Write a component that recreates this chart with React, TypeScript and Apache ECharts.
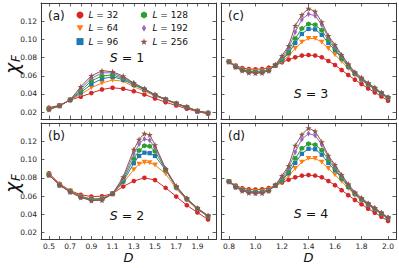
import React, { useEffect, useRef } from "react";
import * as echarts from "echarts";

// ---------- data ----------
const X_A = [0.5, 0.6, 0.7, 0.8, 0.9, 1.0, 1.1, 1.2, 1.3, 1.4, 1.5, 1.6, 1.7, 1.8, 1.9, 2.0];
const A32 = [0.025, 0.0275, 0.0335, 0.037, 0.041, 0.045, 0.0468, 0.0457, 0.043, 0.0395, 0.035, 0.031, 0.0273, 0.0238, 0.0205, 0.0182];
const A64 = [0.0235, 0.027, 0.0335, 0.0395, 0.047, 0.052, 0.0553, 0.054, 0.048, 0.043, 0.038, 0.0335, 0.029, 0.0253, 0.021, 0.019];
const A96 = [0.0235, 0.027, 0.0335, 0.0415, 0.0508, 0.0567, 0.059, 0.0556, 0.05, 0.0445, 0.0385, 0.034, 0.0293, 0.0255, 0.0212, 0.019];
const A128 = [0.0232, 0.027, 0.0335, 0.0435, 0.0545, 0.0597, 0.061, 0.057, 0.051, 0.045, 0.039, 0.034, 0.0295, 0.0256, 0.0213, 0.019];
const A192 = [0.023, 0.027, 0.0335, 0.046, 0.057, 0.0633, 0.0633, 0.058, 0.052, 0.0455, 0.039, 0.0342, 0.0296, 0.0256, 0.0213, 0.0192];
const A256 = [0.023, 0.027, 0.0335, 0.048, 0.06, 0.0655, 0.0645, 0.0596, 0.052, 0.046, 0.0392, 0.0343, 0.0297, 0.0257, 0.0214, 0.0192];

const X_B32 = [0.5, 0.6, 0.7, 0.8, 0.9, 1.0, 1.1, 1.2, 1.3, 1.4, 1.5, 1.6, 1.7, 1.8, 1.9, 2.0];
const X_B = [0.5, 0.6, 0.7, 0.8, 0.9, 1.0, 1.1, 1.2, 1.3, 1.35, 1.4, 1.45, 1.5, 1.6, 1.7, 1.8, 1.9, 2.0];
const B32 = [0.085, 0.0735, 0.066, 0.0615, 0.0595, 0.0598, 0.0628, 0.0705, 0.0765, 0.08, 0.0775, 0.069, 0.0595, 0.05, 0.042, 0.0345];
const B64 = [0.0835, 0.0725, 0.0655, 0.06, 0.057, 0.0575, 0.0625, 0.0745, 0.089, 0.095, 0.097, 0.0965, 0.094, 0.0845, 0.068, 0.0555, 0.0455, 0.0375];
const B96 = [0.0832, 0.072, 0.065, 0.0595, 0.0565, 0.057, 0.0625, 0.076, 0.096, 0.104, 0.1075, 0.107, 0.104, 0.0885, 0.0695, 0.0565, 0.046, 0.038];
const B128 = [0.083, 0.072, 0.065, 0.059, 0.056, 0.0565, 0.0625, 0.0775, 0.101, 0.11, 0.115, 0.1145, 0.109, 0.089, 0.07, 0.057, 0.0465, 0.038];
const B192 = [0.083, 0.072, 0.0645, 0.059, 0.0555, 0.056, 0.0625, 0.079, 0.106, 0.117, 0.1225, 0.121, 0.113, 0.0895, 0.0705, 0.057, 0.0465, 0.0385];
const B256 = [0.083, 0.072, 0.0645, 0.0585, 0.055, 0.0555, 0.0625, 0.081, 0.111, 0.122, 0.1285, 0.127, 0.116, 0.09, 0.071, 0.0575, 0.047, 0.0385];

const X_C = [0.8, 0.85, 0.9, 0.95, 1.0, 1.05, 1.1, 1.15, 1.2, 1.25, 1.3, 1.35, 1.4, 1.45, 1.5, 1.55, 1.6, 1.65, 1.7, 1.75, 1.8, 1.85, 1.9, 1.95, 2.0];
const C32 = [0.0756, 0.0712, 0.0685, 0.0674, 0.0671, 0.0674, 0.0689, 0.0712, 0.0748, 0.0778, 0.0803, 0.0822, 0.0828, 0.0822, 0.0803, 0.0762, 0.0718, 0.0663, 0.0608, 0.0557, 0.0509, 0.0461, 0.0417, 0.0373, 0.0326];
const C64 = [0.0755, 0.0705, 0.0672, 0.0655, 0.065, 0.0652, 0.0668, 0.071, 0.0755, 0.082, 0.09, 0.097, 0.101, 0.101, 0.097, 0.09, 0.083, 0.076, 0.068, 0.061, 0.055, 0.05, 0.045, 0.04, 0.035];
const C96 = [0.0755, 0.0702, 0.0667, 0.0648, 0.0643, 0.0645, 0.0663, 0.0712, 0.077, 0.085, 0.096, 0.106, 0.1115, 0.111, 0.105, 0.096, 0.088, 0.079, 0.07, 0.062, 0.056, 0.0505, 0.0455, 0.0405, 0.0355];
const C128 = [0.0754, 0.07, 0.0663, 0.0643, 0.0638, 0.064, 0.066, 0.0715, 0.078, 0.087, 0.101, 0.112, 0.117, 0.116, 0.11, 0.099, 0.09, 0.08, 0.071, 0.0625, 0.0565, 0.051, 0.046, 0.041, 0.036];
const C192 = [0.0753, 0.0698, 0.066, 0.064, 0.0634, 0.0636, 0.0658, 0.0718, 0.08, 0.09, 0.108, 0.122, 0.128, 0.126, 0.116, 0.102, 0.092, 0.082, 0.072, 0.063, 0.057, 0.0515, 0.0465, 0.0412, 0.0362];
const C256 = [0.0753, 0.0695, 0.0657, 0.0635, 0.063, 0.0632, 0.0655, 0.072, 0.082, 0.093, 0.115, 0.127, 0.134, 0.1307, 0.119, 0.104, 0.094, 0.083, 0.073, 0.064, 0.058, 0.052, 0.047, 0.0415, 0.0365];

const D32 = [0.0762, 0.0716, 0.0687, 0.0675, 0.0672, 0.0674, 0.0688, 0.0713, 0.0748, 0.0779, 0.0805, 0.0824, 0.083, 0.0824, 0.0805, 0.0764, 0.072, 0.0665, 0.061, 0.0558, 0.051, 0.0462, 0.0418, 0.0374, 0.0328];
const D64 = [0.076, 0.0708, 0.0674, 0.0656, 0.0651, 0.0653, 0.0669, 0.0711, 0.0756, 0.0822, 0.0902, 0.0972, 0.1013, 0.1012, 0.0972, 0.0902, 0.0832, 0.0762, 0.0682, 0.0612, 0.0552, 0.0502, 0.0452, 0.0402, 0.0352];
const D96 = [0.076, 0.0705, 0.0669, 0.0649, 0.0644, 0.0646, 0.0664, 0.0713, 0.0772, 0.0852, 0.0963, 0.1063, 0.1118, 0.1113, 0.1053, 0.0962, 0.0882, 0.0792, 0.0702, 0.0622, 0.0562, 0.0507, 0.0457, 0.0407, 0.0357];
const D128 = [0.0759, 0.0703, 0.0665, 0.0644, 0.0639, 0.0641, 0.0661, 0.0716, 0.0782, 0.0873, 0.1013, 0.1123, 0.1173, 0.1163, 0.1103, 0.0993, 0.0902, 0.0802, 0.0712, 0.0627, 0.0567, 0.0512, 0.0462, 0.0412, 0.0362];
const D192 = [0.0758, 0.07, 0.0662, 0.0641, 0.0635, 0.0637, 0.0659, 0.0719, 0.0802, 0.0903, 0.1083, 0.1223, 0.1284, 0.1264, 0.1163, 0.1023, 0.0922, 0.0822, 0.0722, 0.0632, 0.0572, 0.0517, 0.0467, 0.0414, 0.0364];
const D256 = [0.0758, 0.0697, 0.0659, 0.0636, 0.0631, 0.0633, 0.0656, 0.0721, 0.0822, 0.0933, 0.1153, 0.1273, 0.1345, 0.131, 0.1193, 0.1043, 0.0942, 0.0832, 0.0732, 0.0642, 0.0582, 0.0522, 0.0472, 0.0417, 0.0367];

const L_NAMES = ["32", "64", "96", "128", "192", "256"];
const S_LABELS = ["1", "2", "3", "4"];
const PANEL_LETTERS = ["(a)", "(b)", "(c)", "(d)"];

const X_TICKS_LEFT = [0.5, 0.6, 0.7, 0.8, 0.9, 1.0, 1.1, 1.2, 1.3, 1.4, 1.5, 1.6, 1.7, 1.8, 1.9, 2.0];
const X_LABELS_LEFT = [0.5, 0.7, 0.9, 1.1, 1.3, 1.5, 1.7, 1.9];
const X_TICKS_RIGHT = [0.8, 1.0, 1.2, 1.4, 1.6, 1.8, 2.0];
const Y_TICKS = [0.02, 0.04, 0.06, 0.08, 0.1, 0.12];

// ---------- styling ----------
const COLORS = ["#d62728", "#ff7f0e", "#1f77b4", "#2ca02c", "#9467bd", "#8c564b"];
const TRI_DOWN = "path://M0,0 L10,0 L5,8.66 Z";
const HEX = "path://M5,0 L9.33,2.5 L9.33,7.5 L5,10 L0.67,7.5 L0.67,2.5 Z";
const THIN_DIAMOND = "path://M5,0 L8,5 L5,10 L2,5 Z";
const STAR = "path://M5,0 L6.18,3.38 L9.76,3.45 L6.9,5.62 L7.94,9.05 L5,7 L2.06,9.05 L3.1,5.62 L0.24,3.45 L3.82,3.38 Z";
const SYMBOLS = ["circle", TRI_DOWN, "rect", HEX, THIN_DIAMOND, STAR];
const SYM_SIZES: any[] = [4.6, [5.6, 4.9], 4.3, 5, [3.8, 6], 6.2];
const FONT = "DejaVu Sans";
const AX = "#3a3a3a";

function zip(xs: number[], ys: number[]) {
  return ys.map((y, i) => [xs[i], y]);
}

export default function App() {
  const ref = useRef<HTMLDivElement>(null);
  useEffect(() => {
    if (!ref.current) return;
    const chart = echarts.init(ref.current, undefined, { renderer: "svg" });

    const grids = [
      { left: 41, top: 3, width: 175, height: 116 },
      { left: 41, top: 123, width: 175, height: 116.5 },
      { left: 221, top: 3, width: 175, height: 116 },
      { left: 221, top: 123, width: 175, height: 116.5 },
    ];
    const panelData = [
      { xs: [X_A, X_A, X_A, X_A, X_A, X_A], ys: [A32, A64, A96, A128, A192, A256] },
      { xs: [X_B32, X_B, X_B, X_B, X_B, X_B], ys: [B32, B64, B96, B128, B192, B256] },
      { xs: [X_C, X_C, X_C, X_C, X_C, X_C], ys: [C32, C64, C96, C128, C192, C256] },
      { xs: [X_C, X_C, X_C, X_C, X_C, X_C], ys: [D32, D64, D96, D128, D192, D256] },
    ];

    const xAxes: any[] = [];
    const yAxes: any[] = [];
    const series: any[] = [];
    const lineStyleAx = { color: AX, width: 1 };
    const tickStyle = { color: AX, width: 0.8 };

    grids.forEach((g, gi) => {
      const left = gi < 2;
      const bottom = gi === 1 || gi === 3;
      const xmin = left ? 0.425 : 0.74;
      const xmax = left ? 2.075 : 2.06;
      const xt = left ? X_TICKS_LEFT : X_TICKS_RIGHT;
      const xl = left ? X_LABELS_LEFT : X_TICKS_RIGHT;
      const base = {
        type: "value",
        gridIndex: gi,
        splitLine: { show: false },
        axisLine: { show: true, onZero: false, lineStyle: lineStyleAx },
      };
      xAxes.push({
        ...base,
        min: xmin,
        max: xmax,
        position: "bottom",
        axisTick: { show: true, inside: true, length: 3.5, customValues: xt, lineStyle: tickStyle },
        axisLabel: {
          show: bottom,
          customValues: xl,
          formatter: (v: number) => v.toFixed(1),
          fontSize: 7.5,
          fontFamily: FONT,
          color: "#222",
          margin: 3,
        },
      });
      xAxes.push({
        ...base,
        min: xmin,
        max: xmax,
        position: "top",
        axisTick: { show: true, inside: true, length: 3.5, customValues: xt, lineStyle: tickStyle },
        axisLabel: { show: false },
      });
      yAxes.push({
        ...base,
        min: 0.0125,
        max: 0.14,
        position: "left",
        axisTick: { show: true, inside: true, length: 3.5, customValues: Y_TICKS, lineStyle: tickStyle },
        axisLabel: {
          show: left,
          customValues: Y_TICKS,
          formatter: (v: number) => v.toFixed(2),
          fontSize: 7.5,
          fontFamily: FONT,
          color: "#222",
          margin: 4,
        },
      });
      yAxes.push({
        ...base,
        min: 0.0125,
        max: 0.14,
        position: "right",
        axisTick: { show: true, inside: true, length: 3.5, customValues: Y_TICKS, lineStyle: tickStyle },
        axisLabel: { show: false },
      });

      const pd = panelData[gi];
      L_NAMES.forEach((name, si) => {
        series.push({
          type: "line",
          name,
          xAxisIndex: gi * 2,
          yAxisIndex: gi * 2,
          data: zip(pd.xs[si], pd.ys[si]),
          symbol: SYMBOLS[si],
          symbolSize: SYM_SIZES[si],
          showAllSymbol: true,
          itemStyle: { color: COLORS[si], borderWidth: 0, opacity: 1 },
          lineStyle: { color: COLORS[si], width: 1 },
          silent: true,
          z: 2 + si,
        });
      });
    });

    const legendBase = {
      orient: "vertical",
      top: 10.5,
      padding: 0,
      itemWidth: 7,
      itemHeight: 7,
      itemGap: 4.3,
      selectedMode: false,
      formatter: (n: string) => `{i|L} = ${n}`,
      textStyle: {
        fontSize: 9,
        fontFamily: FONT,
        color: "#111",
        lineHeight: 9,
        rich: { i: { fontStyle: "italic", fontSize: 9, fontFamily: FONT, lineHeight: 9 } },
      },
    };
    const legendItem = (i: number) => ({ name: L_NAMES[i], icon: SYMBOLS[i] });

    const textEl = (text: string, x: number, y: number, size: number, align = "left", italic = false) => ({
      type: "text",
      x,
      y,
      silent: true,
      style: {
        text,
        fontSize: size,
        fontFamily: FONT,
        fontStyle: italic ? "italic" : "normal",
        fill: "#111",
        textAlign: align,
        textVerticalAlign: "middle",
        align,
        verticalAlign: "middle",
      },
    });
    const richEl = (text: string, x: number, y: number, size: number) => ({
      type: "text",
      x,
      y,
      silent: true,
      style: {
        text,
        fontSize: size,
        fontFamily: FONT,
        fill: "#111",
        textAlign: "center",
        textVerticalAlign: "middle",
        align: "center",
        verticalAlign: "middle",
        rich: { i: { fontStyle: "italic", fontSize: size, fontFamily: FONT, fill: "#111" } },
      },
    });
    const yLabel = (cy: number) => ({
      type: "group",
      x: 12,
      y: cy,
      rotation: Math.PI / 2,
      silent: true,
      children: [
        textEl("χ", -12, 0, 19, "left", true),
        textEl("F", 0, 4, 12, "left", true),
      ],
    });

    const graphic = [
      textEl(PANEL_LETTERS[0], 48, 15.7, 12),
      textEl(PANEL_LETTERS[1], 48, 136, 12),
      textEl(PANEL_LETTERS[2], 228, 15.7, 12),
      textEl(PANEL_LETTERS[3], 228, 136, 12),
      richEl(`{i|S} = ${S_LABELS[0]}`, 127, 57, 12.5),
      richEl(`{i|S} = ${S_LABELS[1]}`, 127, 215.5, 12.5),
      richEl(`{i|S} = ${S_LABELS[2]}`, 311, 93.5, 12.5),
      richEl(`{i|S} = ${S_LABELS[3]}`, 311, 213.5, 12.5),
      textEl("D", 128.5, 257.5, 13, "center", true),
      textEl("D", 308.5, 257.5, 13, "center", true),
      yLabel(62),
      yLabel(181),
    ];

    chart.setOption({
      animation: false,
      backgroundColor: "#fff",
      grid: grids,
      xAxis: xAxes,
      yAxis: yAxes,
      series,
      legend: [
        { ...legendBase, left: 76.5, data: [0, 1, 2].map(legendItem) },
        { ...legendBase, left: 140.5, data: [3, 4, 5].map(legendItem) },
      ],
      graphic,
    });
    return () => chart.dispose();
  }, []);

  return (
    <div
      ref={ref}
      style={{ position: "fixed", left: 0, top: 0, width: 399, height: 268, background: "#fff" }}
    />
  );
}
